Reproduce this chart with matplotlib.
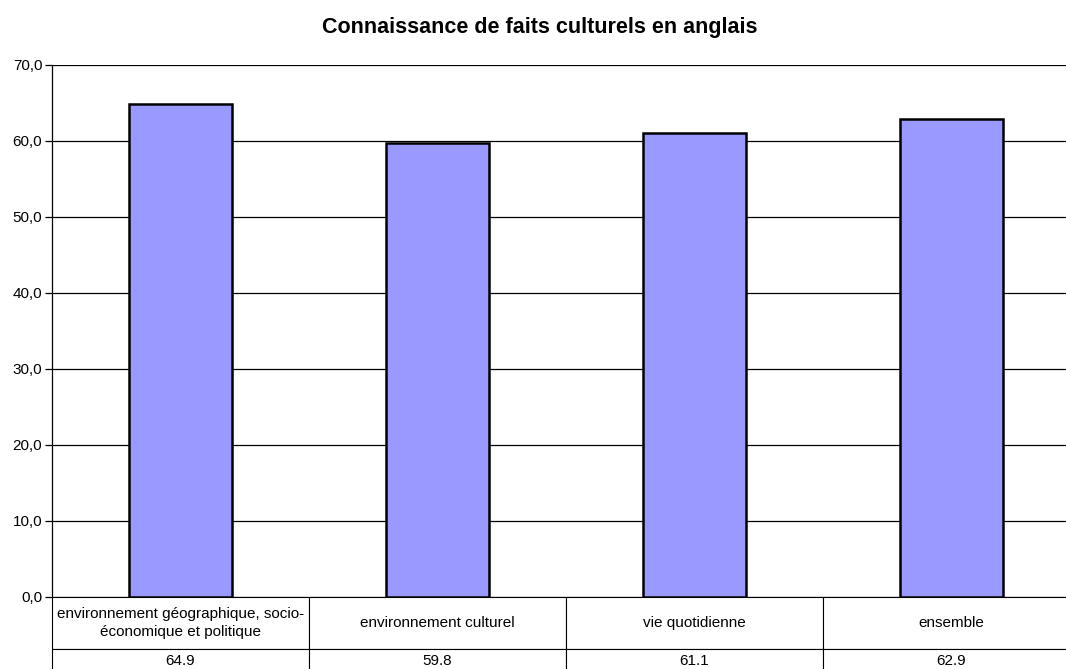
import matplotlib
matplotlib.use('Agg')
import matplotlib.pyplot as plt

plt.rcParams['font.family'] = ['Liberation Sans', 'DejaVu Sans']

categories = ['environnement géographique, socio-\néconomique et politique',
              'environnement culturel',
              'vie quotidienne',
              'ensemble']
values = [64.9, 59.8, 61.1, 62.9]
yticks = [0, 10, 20, 30, 40, 50, 60, 70]

fig = plt.figure(figsize=(10.66, 6.69), dpi=100)
ax = fig.add_axes([52 / 1066, 1 - 597 / 669, 1028 / 1066, 532 / 669])

x = list(range(len(values)))
ax.bar(x, values, width=0.4, color='#9999FF', edgecolor='black', linewidth=1.8, zorder=3)

ax.set_xlim(-0.5, len(values) - 0.5)
ax.set_ylim(0, 70)
ax.set_yticks(yticks)
ax.set_yticklabels(['{:.1f}'.format(v).replace('.', ',') for v in yticks], fontsize=11)
ax.yaxis.grid(True, color='black', linewidth=0.9, zorder=0)
ax.set_xticks([])
ax.tick_params(axis='y', length=5, width=0.9, pad=2)
for s in ['top', 'right', 'bottom']:
    ax.spines[s].set_visible(False)
ax.spines['left'].set_linewidth(0.9)

fig.text(540 / 1066, 1 - 28 / 669, 'Connaissance de faits culturels en anglais',
         fontsize=15.5, fontweight='bold', ha='center', va='center')

# data table under the axis
h1 = 52 / 532
h2 = 24 / 532
tab = ax.table(cellText=[categories, ['{:.1f}'.format(v) for v in values]],
               cellLoc='center', bbox=[0, -(h1 + h2), 1, h1 + h2])
tab.auto_set_font_size(False)
tab.set_fontsize(11)
for (r, c), cell in tab.get_celld().items():
    cell.set_linewidth(0.8)
    cell.set_height(h1 if r == 0 else h2)
    cell.set_y(-h1 if r == 0 else -(h1 + h2))
    cell.get_text().set_linespacing(1.35)

fig.savefig('out.png', dpi=100)
